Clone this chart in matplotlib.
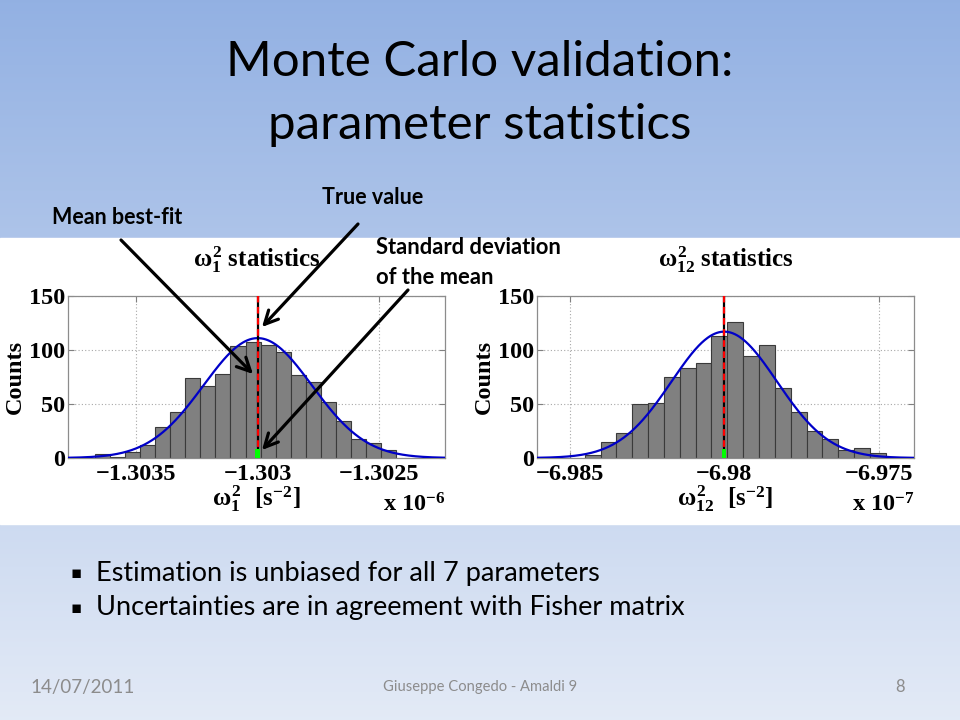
import numpy as np
import matplotlib
matplotlib.use('Agg')
import matplotlib.pyplot as plt
from matplotlib.patches import Rectangle

plt.rcParams['mathtext.fontset'] = 'custom'
plt.rcParams['mathtext.rm'] = 'Liberation Serif:bold'
plt.rcParams['mathtext.it'] = 'Liberation Serif:bold'
plt.rcParams['mathtext.bf'] = 'Liberation Serif:bold'

# --- omega_1^2 panel (values in units of 1e-6 s^-2) ---
w1_bin_start = -1.30367
w1_bin_width = 6.2e-5
w1_counts = [4, 1, 6, 12, 29, 43, 74, 67, 78, 104, 107, 105, 98, 77, 70, 52, 34, 18, 14, 7]
w1_mean = -1.3030
w1_true = -1.3030
w1_mean_err = 1.0e-5
w1_fit_sigma = 2.225e-4
w1_fit_peak = 111
w1_xlim = (-1.30378, -1.30223)
w1_xticks = [-1.3035, -1.303, -1.3025]
w1_xticklabels = ['\u22121.3035', '\u22121.303', '\u22121.3025']

# --- omega_12^2 panel (values in units of 1e-7 s^-2) ---
w12_bin_start = -6.98451
w12_bin_width = 5.12e-4
w12_counts = [3, 15, 23, 50, 51, 75, 83, 88, 113, 126, 94, 105, 65, 43, 25, 18, 7, 9, 5]
w12_mean = -6.9800
w12_true = -6.9800
w12_mean_err = 7.0e-5
w12_fit_sigma = 1.7e-3
w12_fit_peak = 117
w12_xlim = (-6.98605, -6.97387)
w12_xticks = [-6.985, -6.98, -6.975]
w12_xticklabels = ['\u22126.985', '\u22126.98', '\u22126.975']

yticks = [0, 50, 100, 150]

SERIF = 'Liberation Serif'
SANS = ['Lato', 'DejaVu Sans']
FS = 17.5


def draw_panel(ax, start, width, counts, mean, true, err, sigma, peak,
               xlim, xticks, xticklabels, sub, expo):
    edges = start + width * np.arange(len(counts) + 1)
    ax.bar(edges[:-1], counts, width=width, align='edge', color='#808080',
           edgecolor='#3a3a3a', linewidth=0.8, zorder=2)
    xs = np.linspace(xlim[0], xlim[1], 500)
    ax.plot(xs, peak * np.exp(-0.5 * ((xs - mean) / sigma) ** 2),
            color='#0000c8', lw=1.6, zorder=3)
    ax.axvline(true, color='k', lw=1.6, zorder=4)
    ax.axvline(mean, color='#ff0000', lw=1.6, ls=(0, (3, 2)), zorder=5)
    ax.bar(mean, 8, width=2 * err, color='#00ff00', zorder=6)

    ax.set_xlim(xlim)
    ax.set_ylim(0, 150)
    ax.set_xticks(xticks)
    ax.set_xticklabels(xticklabels)
    ax.set_yticks(yticks)
    ax.grid(True, ls=(0, (1, 2)), color='#a8a8a8', lw=0.8)
    ax.set_axisbelow(True)
    ax.tick_params(direction='in', length=4, top=True, right=True,
                   color='#808080', labelsize=FS)
    ax.tick_params(axis='x', pad=4)
    ax.tick_params(axis='y', pad=2)
    for lab in ax.get_xticklabels() + ax.get_yticklabels():
        lab.set_fontfamily(SERIF)
        lab.set_fontweight('bold')
    for sp in ax.spines.values():
        sp.set_color('#8c8c8c')
        sp.set_linewidth(0.9)

    ax.text(0.5, 1.179, r'$\omega_{%s}^{2}$ statistics' % sub, transform=ax.transAxes,
            ha='center', va='baseline', fontsize=18, fontfamily=SERIF,
            fontweight='bold')
    ax.text(0.5, -0.296, r'$\omega_{%s}^{2}\ \ [\mathrm{s}^{-2}]$' % sub,
            transform=ax.transAxes, ha='center', va='baseline', fontsize=18)
    ax.text(1.0, -0.333, r'x 10$^{%s}$' % expo, transform=ax.transAxes,
            ha='right', va='baseline', fontsize=FS, fontfamily=SERIF,
            fontweight='bold')
    ax.text(-0.14, 0.5, 'Counts', transform=ax.transAxes, rotation=90,
            ha='center', va='center', fontsize=FS, fontfamily=SERIF,
            fontweight='bold')


fig = plt.figure(figsize=(9.6, 7.2), dpi=100)

# slide background
ax_bg = fig.add_axes([0, 0, 1, 1], zorder=-10)
top_col = np.array([0.576, 0.694, 0.890])
bot_col = np.array([0.890, 0.918, 0.965])
t = np.linspace(0, 1, 256)[:, None, None]
grad = top_col[None, None, :] * (1 - t) + bot_col[None, None, :] * t
ax_bg.imshow(grad, extent=[0, 960, 720, 0], aspect='auto')
ax_bg.add_patch(Rectangle((0, 238), 960, 286, color='white'))
ax_bg.set_xlim(0, 960)
ax_bg.set_ylim(720, 0)
ax_bg.axis('off')

ax1 = fig.add_axes([68 / 960, 1 - 458 / 720, 377 / 960, 162 / 720])
draw_panel(ax1, w1_bin_start, w1_bin_width, w1_counts, w1_mean, w1_true,
           w1_mean_err, w1_fit_sigma, w1_fit_peak, w1_xlim, w1_xticks,
           w1_xticklabels, '1', '-6')

ax2 = fig.add_axes([537 / 960, 1 - 458 / 720, 377 / 960, 162 / 720])
draw_panel(ax2, w12_bin_start, w12_bin_width, w12_counts, w12_mean, w12_true,
           w12_mean_err, w12_fit_sigma, w12_fit_peak, w12_xlim, w12_xticks,
           w12_xticklabels, '12', '-7')

# overlay for slide text and arrows (pixel coordinates, y downward)
ov = fig.add_axes([0, 0, 1, 1], zorder=10)
ov.set_xlim(0, 960)
ov.set_ylim(720, 0)
ov.axis('off')
ov.patch.set_alpha(0)

ov.text(480, 62, 'Monte Carlo validation:', ha='center', va='center',
        fontsize=35.5, family=SANS)
ov.text(480, 125, 'parameter statistics', ha='center', va='center',
        fontsize=35.5, family=SANS)

ov.text(52, 218, 'Mean best-fit', ha='left', va='center', fontsize=15.5,
        fontweight='bold', family=SANS)
ov.text(322, 198, 'True value', ha='left', va='center', fontsize=15.5,
        fontweight='bold', family=SANS)
ov.text(376, 247, 'Standard deviation', ha='left', va='center', fontsize=15.8,
        fontweight='bold', family=SANS)
ov.text(376, 277, 'of the mean', ha='left', va='center', fontsize=15.8,
        fontweight='bold', family=SANS)

arrow_kw = dict(arrowstyle='->', lw=2.3, color='k', mutation_scale=24,
                shrinkA=0, shrinkB=0)
ov.annotate('', xy=(253, 374), xytext=(121, 240), arrowprops=arrow_kw)
ov.annotate('', xy=(262, 327), xytext=(358, 224), arrowprops=arrow_kw)
ov.annotate('', xy=(262, 450), xytext=(408, 290), arrowprops=arrow_kw)

bullets = ['Estimation is unbiased for all 7 parameters',
           'Uncertainties are in agreement with Fisher matrix']
for i, b in enumerate(bullets):
    y = 573 + 35 * i
    ov.text(76, y, '\u25aa', ha='center', va='center', fontsize=12,
            family=['DejaVu Sans'])
    ov.text(96, y, b, ha='left', va='center', fontsize=19.5, family=SANS)

ov.text(30, 687, '14/07/2011', ha='left', va='center', fontsize=13.5,
        color='#8c8c8c', family=SANS)
ov.text(480, 687, 'Giuseppe Congedo - Amaldi 9', ha='center', va='center',
        fontsize=10.6, color='#8c8c8c', family=SANS)
ov.text(900, 687, '8', ha='center', va='center', fontsize=12,
        color='#8c8c8c', family=SANS)

fig.savefig('out.png', dpi=100)
